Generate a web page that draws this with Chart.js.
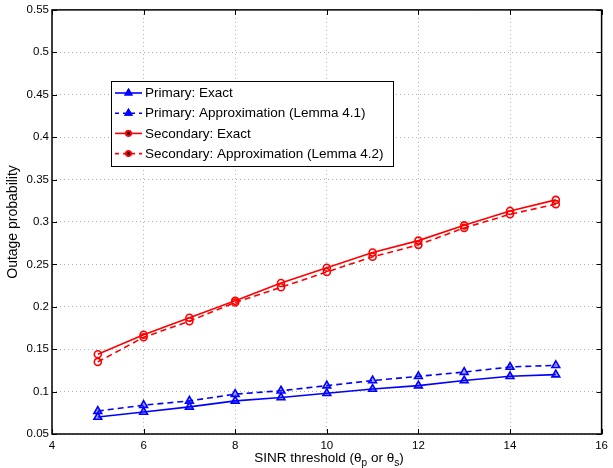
<!DOCTYPE html>
<html>
<head>
<meta charset="utf-8">
<script src="https://cdn.jsdelivr.net/npm/chart.js@4/dist/chart.umd.min.js"></script>
<style>
  html, body { margin: 0; padding: 0; background: #fff; }
  #wrap { width: 613px; height: 468px; position: relative; }
</style>
</head>
<body>
<div id="wrap"><canvas id="outageChart"></canvas></div>
<script>
/* ── data ── */
const thresholds      = [5, 6, 7, 8, 9, 10, 11, 12, 13, 14, 15];
const primaryExact    = [0.070, 0.076, 0.082, 0.089, 0.093, 0.098, 0.103, 0.107, 0.113, 0.118, 0.120];
const primaryApprox   = [0.077, 0.084, 0.089, 0.097, 0.101, 0.107, 0.113, 0.118, 0.123, 0.129, 0.131];
const secondaryExact  = [0.144, 0.167, 0.187, 0.207, 0.228, 0.246, 0.264, 0.278, 0.296, 0.313, 0.326];
const secondaryApprox = [0.135, 0.164, 0.183, 0.205, 0.223, 0.241, 0.259, 0.273, 0.293, 0.309, 0.321];

const xTicks = [4, 6, 8, 10, 12, 14, 16];
const yTicks = [0.05, 0.1, 0.15, 0.2, 0.25, 0.3, 0.35, 0.4, 0.45, 0.5, 0.55];

const seriesLabels = [
  'Primary: Exact',
  'Primary: Approximation (Lemma 4.1)',
  'Secondary: Exact',
  'Secondary: Approximation (Lemma 4.2)',
];

const FONT = "'Liberation Sans', Arial, Helvetica, sans-serif";
const BLUE = '#0000ff';
const RED  = '#ff0000';

const pts = ys => thresholds.map((x, i) => ({ x, y: ys[i] }));

function series(label, ys, color, dashed, shape) {
  return {
    label,
    data: pts(ys),
    borderColor: color,
    backgroundColor: color,
    borderWidth: 1.6,
    borderDash: dashed ? [6, 4] : [],
    pointStyle: shape,
    pointRadius: shape === 'triangle' ? 4.5 : 3.5,
    pointBorderWidth: 1.6,
    pointBackgroundColor: shape === 'triangle' ? 'rgba(0,0,255,0.35)' : 'rgba(255,255,255,0)',
    pointBorderColor: color,
    tension: 0,
  };
}

/* ── MATLAB-style frame, inward ticks, legend box and x title ── */
const matlabDecor = {
  id: 'matlabDecor',
  afterDraw(chart) {
    const { ctx, chartArea: a, scales } = chart;
    ctx.save();

    // inward ticks on all four sides
    ctx.strokeStyle = '#000';
    ctx.lineWidth = 1;
    const tl = 5;
    ctx.beginPath();
    xTicks.forEach(v => {
      const px = Math.round(scales.x.getPixelForValue(v)) + 0.5;
      ctx.moveTo(px, a.bottom); ctx.lineTo(px, a.bottom - tl);
      ctx.moveTo(px, a.top);    ctx.lineTo(px, a.top + tl);
    });
    yTicks.forEach(v => {
      const py = Math.round(scales.y.getPixelForValue(v)) + 0.5;
      ctx.moveTo(a.left, py);  ctx.lineTo(a.left + tl, py);
      ctx.moveTo(a.right, py); ctx.lineTo(a.right - tl, py);
    });
    ctx.stroke();

    // plot frame
    ctx.lineWidth = 1.5;
    ctx.strokeRect(a.left, a.top, a.right - a.left, a.bottom - a.top);

    // x axis title with subscripts
    ctx.fillStyle = '#000';
    ctx.textBaseline = 'alphabetic';
    const parts = [
      ['SINR threshold (θ', 13.5, 0],
      ['p', 10, 4],
      [' or θ', 13.5, 0],
      ['s', 10, 4],
      [')', 13.5, 0],
    ];
    let total = 0;
    parts.forEach(([t, s]) => { ctx.font = `${s}px ${FONT}`; total += ctx.measureText(t).width; });
    let x = 329 - total / 2;
    const base = 462;
    parts.forEach(([t, s, dy]) => {
      ctx.font = `${s}px ${FONT}`;
      ctx.fillText(t, x, base + dy);
      x += ctx.measureText(t).width;
    });

    // legend box
    const box = { x: 111.5, y: 81.5, w: 282, h: 85 };
    ctx.fillStyle = '#fff';
    ctx.fillRect(box.x, box.y, box.w, box.h);
    ctx.strokeStyle = '#000';
    ctx.lineWidth = 1;
    ctx.strokeRect(box.x, box.y, box.w, box.h);

    ctx.font = `13.5px ${FONT}`;
    ctx.textBaseline = 'middle';
    chart.data.datasets.forEach((ds, i) => {
      const ly = 93 + i * 20.2;
      ctx.strokeStyle = ds.borderColor;
      ctx.lineWidth = ds.borderWidth;
      ctx.setLineDash(ds.borderDash.length ? [4, 4] : []);
      ctx.beginPath();
      ctx.moveTo(115, ly); ctx.lineTo(142, ly);
      ctx.stroke();
      ctx.setLineDash([]);
      Chart.helpers.drawPoint(ctx, {
        pointStyle: ds.pointStyle,
        radius: ds.pointStyle === 'triangle' ? 3.5 : 2.5,
        borderWidth: ds.pointBorderWidth,
      }, 128.5, ly);
      ctx.fillStyle = ds.pointStyle === 'triangle' ? BLUE : 'rgba(255,255,255,0)';
      ctx.fill();
      ctx.stroke();
      ctx.fillStyle = '#000';
      ctx.fillText(ds.label, 145, ly + 0.5);
    });

    ctx.restore();
  },
};

new Chart(document.getElementById('outageChart'), {
  type: 'line',
  data: {
    datasets: [
      series(seriesLabels[0], primaryExact,    BLUE, false, 'triangle'),
      series(seriesLabels[1], primaryApprox,   BLUE, true,  'triangle'),
      series(seriesLabels[2], secondaryExact,  RED,  false, 'circle'),
      series(seriesLabels[3], secondaryApprox, RED,  true,  'circle'),
    ],
  },
  options: {
    responsive: true,
    maintainAspectRatio: false,
    animation: false,
    layout: { padding: { left: 0, top: 7, right: 5, bottom: 0 } },
    plugins: { legend: { display: false }, tooltip: { enabled: false } },
    scales: {
      x: {
        type: 'linear',
        min: 4, max: 16,
        afterBuildTicks: s => { s.ticks = xTicks.map(value => ({ value })); },
        afterFit: s => { s.height = 34; },
        grid: { color: '#b0b0b0', lineWidth: 1, drawTicks: false },
        border: { display: false, dash: [1, 3] },
        ticks: { color: '#000', font: { family: FONT, size: 11.5 }, padding: 5, maxRotation: 0 },
      },
      y: {
        min: 0.05, max: 0.55,
        afterBuildTicks: s => { s.ticks = yTicks.map(value => ({ value })); },
        afterFit: s => { s.width = 52; },
        grid: { color: '#b0b0b0', lineWidth: 1, drawTicks: false },
        border: { display: false, dash: [1, 3] },
        ticks: { color: '#000', font: { family: FONT, size: 11.5 }, padding: 3, callback: v => String(+v.toFixed(2)) },
        title: { display: true, text: 'Outage probability', color: '#000', font: { family: FONT, size: 14 }, padding: { top: 5, bottom: 0 } },
      },
    },
  },
  plugins: [matlabDecor],
});
</script>
</body>
</html>
